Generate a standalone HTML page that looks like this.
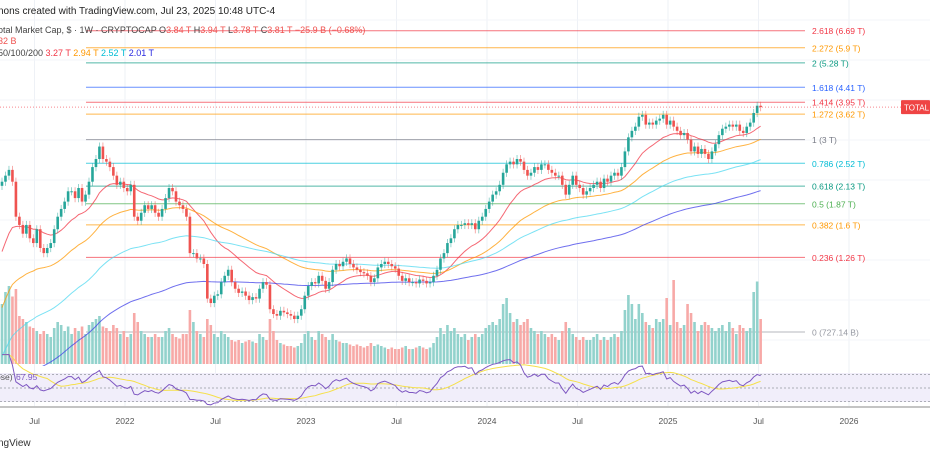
<!DOCTYPE html>
<html><head><meta charset="utf-8"><style>
body{margin:0;background:#fff;width:930px;height:454px;overflow:hidden;font-family:"Liberation Sans",sans-serif}
svg{display:block}
text{font-family:"Liberation Sans",sans-serif}
</style></head><body>
<svg id="c" width="930" height="454">
<g id="grid"></g><g id="fib"></g><g id="vol"></g><g id="ma"></g><g id="candles"></g><g id="rsi"></g><g id="axis"></g><g id="hdr"></g>
</svg>
<script>
const NS="http://www.w3.org/2000/svg";
const closes=[2.2,2.3,2.4,2.2,1.7,1.6,1.5,1.6,1.45,1.4,1.55,1.35,1.3,
1.35,1.4,1.55,1.7,1.8,1.9,2.05,2.05,1.95,2.1,1.9,2.0,2.2,
2.45,2.6,2.85,2.6,2.55,2.45,
2.3,2.15,2.2,2.1,2.05,2.15,1.7,1.65,1.75,1.85,1.8,1.85,1.75,1.7,
1.8,1.95,2.1,2.05,1.9,1.85,1.8,
1.7,1.3,1.3,1.25,1.25,1.2,0.93,0.9,
0.95,0.96,1.05,1.1,1.15,1.05,1.0,0.97,0.98,0.95,0.92,0.94,0.93,1.0,1.05,
1.03,0.86,0.83,0.82,0.85,0.84,0.83,0.82,0.8,0.82,0.86,
0.95,1.02,1.05,1.04,1.1,1.06,1.0,1.05,1.15,1.2,1.18,1.22,1.25,1.2,
1.17,1.15,1.13,1.12,1.1,1.05,1.08,1.17,1.2,1.22,1.2,1.18,1.16,1.1,1.06,1.08,1.05,1.05,1.04,1.07,1.06,1.04,1.05,1.1,1.15,
1.25,1.3,1.4,1.45,1.55,1.6,1.6,1.62,1.6,1.62,1.55,1.65,1.7,1.8,1.9,
2.0,2.05,2.15,2.35,2.5,2.55,2.5,2.6,2.55,2.4,2.3,2.35,
2.45,2.4,2.5,2.5,2.4,2.35,2.3,2.3,2.15,2.0,2.15,2.3,2.15,2.1,2.0,2.05,2.1,2.15,2.2,2.1,2.25,2.2,2.3,
2.35,2.3,2.45,2.75,3.05,3.2,3.3,3.55,3.6,3.35,3.4,3.35,3.45,3.5,3.6,
3.35,3.45,3.3,3.2,3.1,3.15,3.0,2.75,2.85,2.7,2.8,2.7,2.6,2.75,2.9,
3.1,3.25,3.3,3.35,3.3,3.35,3.2,3.15,3.3,3.4,3.65,3.85,3.81];
const volumes=[40,48,52,45,50,32,30,28,25,24,22,20,22,
20,18,24,28,26,22,25,20,24,22,25,20,26,
28,30,32,25,24,22,
26,24,20,22,18,20,34,28,22,20,18,18,20,18,
18,22,24,20,18,17,20,
20,36,28,22,20,18,30,26,
20,18,22,20,18,16,15,16,14,15,16,15,14,20,18,
16,30,22,16,14,13,12,12,11,12,14,
20,22,18,16,22,20,18,16,20,16,15,14,14,13,
12,13,12,11,12,14,12,13,12,11,10,11,10,10,11,12,10,10,11,12,11,10,11,14,18,
24,20,26,22,24,20,18,20,16,18,20,18,20,24,26,
28,26,30,40,44,34,28,30,26,28,30,24,
22,20,22,20,18,20,18,16,22,28,24,20,18,16,18,16,16,18,20,16,18,16,18,
20,18,22,36,46,40,30,40,34,28,26,24,30,28,30,
44,26,56,28,24,26,40,34,28,22,26,28,26,24,22,
24,26,22,28,24,20,26,24,22,24,48,55,30];
// monthly history (T) Jul 2017 - Mar 2021 for moving-average seeding
const history=[0.1,0.17,0.15,0.18,0.28,0.6,0.52,0.43,0.27,0.36,0.42,0.33,0.28,0.28,0.22,0.21,0.13,0.13,0.12,0.135,0.14,0.17,0.26,0.32,0.30,0.26,0.21,0.22,0.20,0.19,0.25,0.26,0.19,0.24,0.26,0.26,0.34,0.39,0.35,0.40,0.57,0.77,1.0,1.45,1.75];
const fibLevels=[0,0.236,0.382,0.5,0.618,0.786,1,1.272,1.414,1.618,2,2.272,2.618];
const fibPrices=["727.14 B","1.26 T","1.6 T","1.87 T","2.13 T","2.52 T","3 T","3.62 T","3.95 T","4.41 T","5.28 T","5.9 T","6.69 T"];
const fibValues=[0.72714,1.26,1.6,1.87,2.13,2.52,3,3.62,3.95,4.41,5.28,5.9,6.69];
const fibColors=["#9598a1","#f23645","#ff9800","#4caf50","#089981","#00bcd4","#787b86","#ff9800","#f23645","#2962ff","#089981","#ff9800","#f23645"];
const tickLabels=["Jul","2022","Jul","2023","Jul","2024","Jul","2025","Jul","2026"];
const tickYears=[2021.5,2022,2022.5,2023,2023.5,2024,2024.5,2025,2025.5,2026];

const X=i=>2+i*3.48;
const Y=p=>332-(Math.log10(p)+0.1384)*312.6;
const XT=yr=>125+(yr-2022)*181;
const VY=v=>364-v*1.5;
const RY=r=>388-(r-50)*0.675;
function el(tag,attrs,parent,txt){const e=document.createElementNS(NS,tag);for(const k in attrs)e.setAttribute(k,attrs[k]);if(txt!=null)e.textContent=txt;parent.appendChild(e);return e;}
const G=id=>document.getElementById(id);

const grid=G('grid');
tickYears.forEach(t=>{const l=el('line',{x1:XT(t),x2:XT(t),y1:0,y2:406,stroke:'#eef1f6'},grid);

});
[20,60,100,140,180,220,260,300,340].forEach(y=>{const l=el('line',{x1:0,x2:930,y1:y,y2:y,stroke:'#f3f5f9'},grid);

});
el('rect',{x:0,y:373,width:930,height:29,fill:'#f1eefa'},grid);

const fib=G('fib');
fibLevels.forEach((lv,i)=>{const y=Y(fibValues[i]);
const l=el('line',{x1:86,x2:805,y1:y,y2:y,stroke:fibColors[i],'stroke-opacity':0.7,'stroke-width':1},fib);


const t=el('text',{x:812,y:y+3.5,'font-size':'8.5px',fill:fibColors[i]},fib,lv+" ("+fibPrices[i]+")");

});

const full=[];for(let w=0;w<195;w++)full.push(history[Math.min(history.length-1,Math.floor(w/4.33))]);
const off=full.length;closes.forEach(c=>full.push(c));
function emaSeries(n){const k=2/(n+1);const out=[];let e=full[0];for(let i=0;i<full.length;i++){e=full[i]*k+e*(1-k);out.push(e);}return out;}
const defs=el('defs',{},G('c'));const cp=el('clipPath',{id:'cp'},defs);el('rect',{x:0,y:0,width:930,height:366},cp);
const ma=G('ma');
[[20,'#f23645'],[50,'#ff9800'],[100,'#4dd8f0'],[200,'#3f3fe8']].forEach(([n,c])=>{
const e=emaSeries(n);
let d='';closes.forEach((_,i)=>{const v=e[i+off];d+=(i?'L':'M')+X(i).toFixed(1)+' '+Y(v).toFixed(1);});
const p=el('path',{d:d,fill:'none',stroke:c,'stroke-width':1,'stroke-opacity':0.75,'clip-path':'url(#cp)'},ma);

});

const vol=G('vol'),cg=G('candles');
closes.forEach((c,i)=>{const o=i?closes[i-1]:c*0.97;const up=c>=o;
const b=el('rect',{x:X(i)-1.3,y:VY(volumes[i]),width:2.6,height:364-VY(volumes[i]),fill:up?'#92d2cc':'#f7a9a7'},vol);


const hi=Math.max(o,c)*1.03,lo=Math.min(o,c)*0.97,col=up?'#26a69a':'#ef5350';
const w=el('line',{x1:X(i),x2:X(i),y1:Y(hi),y2:Y(lo),stroke:col,'stroke-opacity':0.6,'stroke-width':0.8},cg);


const top=Y(Math.max(o,c)),bot=Y(Math.min(o,c));
const r=el('rect',{x:X(i)-1.3,y:top,width:2.6,height:Math.max(1,bot-top),fill:col},cg);

});

const rg=G('rsi');
[70,50,30].forEach(v=>{const l=el('line',{x1:0,x2:930,y1:RY(v),y2:RY(v),stroke:'#9598a1','stroke-dasharray':'2 2','stroke-width':0.8},rg);

});
let ag=0,al=0;const rsi=[];
for(let i=1;i<full.length;i++){const d=full[i]-full[i-1];const g=Math.max(d,0),ls=Math.max(-d,0);
if(i<=14){ag+=g/14;al+=ls/14;}else{ag=(ag*13+g)/14;al=(al*13+ls)/14;}
if(i>=off)rsi.push(al===0?100:100-100/(1+ag/al));}
let d1='',d2='';rsi.forEach((r,i)=>{d1+=(i?'L':'M')+X(i).toFixed(1)+' '+RY(r).toFixed(1);
let s=0;for(let k=Math.max(0,i-13);k<=i;k++)s+=rsi[k];s/=Math.min(14,i+1);
d2+=(i?'L':'M')+X(i).toFixed(1)+' '+RY(s).toFixed(1);});
const ys=el('path',{d:d2,fill:'none',stroke:'#f5e04a','stroke-width':1},rg);


const rl=el('path',{d:d1,fill:'none',stroke:'#7e57c2','stroke-width':1},rg);


const rt=el('text',{x:-4,y:380,'font-size':'8.5px',fill:'#555'},rg,'ose)');


el('text',{x:16,y:380,'font-size':'8.5px',fill:'#7e57c2'},rg,'67.95');

const ax=G('axis');
el('line',{x1:0,x2:930,y1:407,y2:407,stroke:'#888','stroke-width':1},ax);
tickLabels.forEach((t,i)=>{const e=el('text',{x:XT(tickYears[i]),y:424,'font-size':'8.5px',fill:'#555','text-anchor':'middle'},ax,t);

});
const ft=el('text',{x:-2,y:446,'font-size':'10px',fill:'#333'},ax,'ngView');


const py=Y(3.81);
el('line',{x1:0,x2:905,y1:py,y2:py,stroke:'#f23645','stroke-dasharray':'1 2','stroke-opacity':0.6},ax);
const tag=el('rect',{x:901,y:py-7,width:29,height:14,fill:'#ef4444',rx:1},ax);


el('text',{x:904,y:py+3.5,'font-size':'8px',fill:'#fff'},ax,'TOTAL');

const h=G('hdr');
const h1=el('text',{x:-2,y:14,'font-size':'10px',fill:'#222'},h,'nons created with TradingView.com, Jul 23, 2025 10:48 UTC-4');

const h2=el('text',{x:-2,y:33,'font-size':'9px',fill:'#444'},h);

h2.innerHTML='otal Market Cap, $ · 1W · CRYPTOCAP  O<tspan fill="#ef5350">3.84 T</tspan>  H<tspan fill="#ef5350">3.94 T</tspan>  L<tspan fill="#ef5350">3.78 T</tspan>  C<tspan fill="#ef5350">3.81 T  −25.9 B (−0.68%)</tspan>';
el('text',{x:-2,y:44,'font-size':'9px',fill:'#ef5350'},h,'32 B');
const h4=el('text',{x:-2,y:56,'font-size':'9px',fill:'#444'},h);

h4.innerHTML='50/100/200  <tspan fill="#f23645">3.27 T</tspan>  <tspan fill="#ff9800">2.94 T</tspan>  <tspan fill="#00bcd4">2.52 T</tspan>  <tspan fill="#2929e0">2.01 T</tspan>';
</script>
</body></html>
